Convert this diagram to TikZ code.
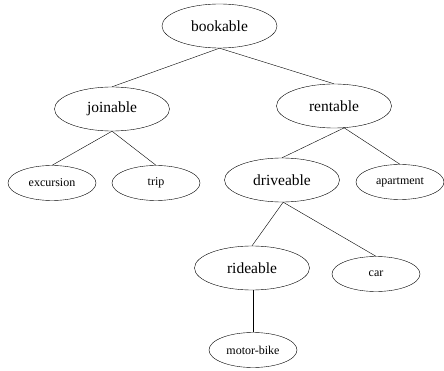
\documentclass[tikz,border=0pt]{standalone}
\usepackage{fontspec}
\setmainfont{Liberation Serif}
\usetikzlibrary{shapes.geometric}
\begin{document}
\begin{tikzpicture}[
  x=1pt, y=-1pt,
  node_big/.style={
    draw,
    ellipse,
    inner sep=0pt,
    minimum width=115pt,
    minimum height=44pt,
    font=\fontsize{15.5}{17}\selectfont
  },
  node_small/.style={
    draw,
    ellipse,
    inner sep=0pt,
    minimum width=88pt,
    minimum height=35pt,
    font=\fontsize{12}{14}\selectfont
  },
  path_normal/.style={
    draw,
    thin,
    color=black
  }
]%
\useasboundingbox (0,0) rectangle (444,371);
\node [node_big] (bookable) at (219.5,26) {bookable};
\node [node_big] (joinable) at (112,109) {joinable};
\node [node_big] (rentable) at (334,106) {rentable};
\node [node_small] (excursion) at (52,183) {excursion};
\node [node_small] (trip) at (156,183) {trip};
\node [node_big] (driveable) at (282,180) {driveable};
\node [node_small] (apartment) at (400,182) {apartment};
\node [node_big] (rideable) at (252,268) {rideable};
\node [node_small] (car) at (376,274) {car};
\node [node_small] (motorbike) at (253,350) {motor-bike};
\path [path_normal] (bookable.south) -- (joinable.north);
\path [path_normal] (bookable.south) -- (rentable.north);
\path [path_normal] (joinable.south) -- (excursion.north);
\path [path_normal] (joinable.south) -- (trip.north);
\path [path_normal] (rentable.-65) -- (driveable.north);
\path [path_normal] (rentable.-65) -- (apartment.north);
\path [path_normal] (driveable.-87) -- (rideable.north);
\path [path_normal] (driveable.-87) -- (car.north);
\path [path_normal] (rideable.south -| motorbike.north) -- (motorbike.north);
\end{tikzpicture}
\end{document}
